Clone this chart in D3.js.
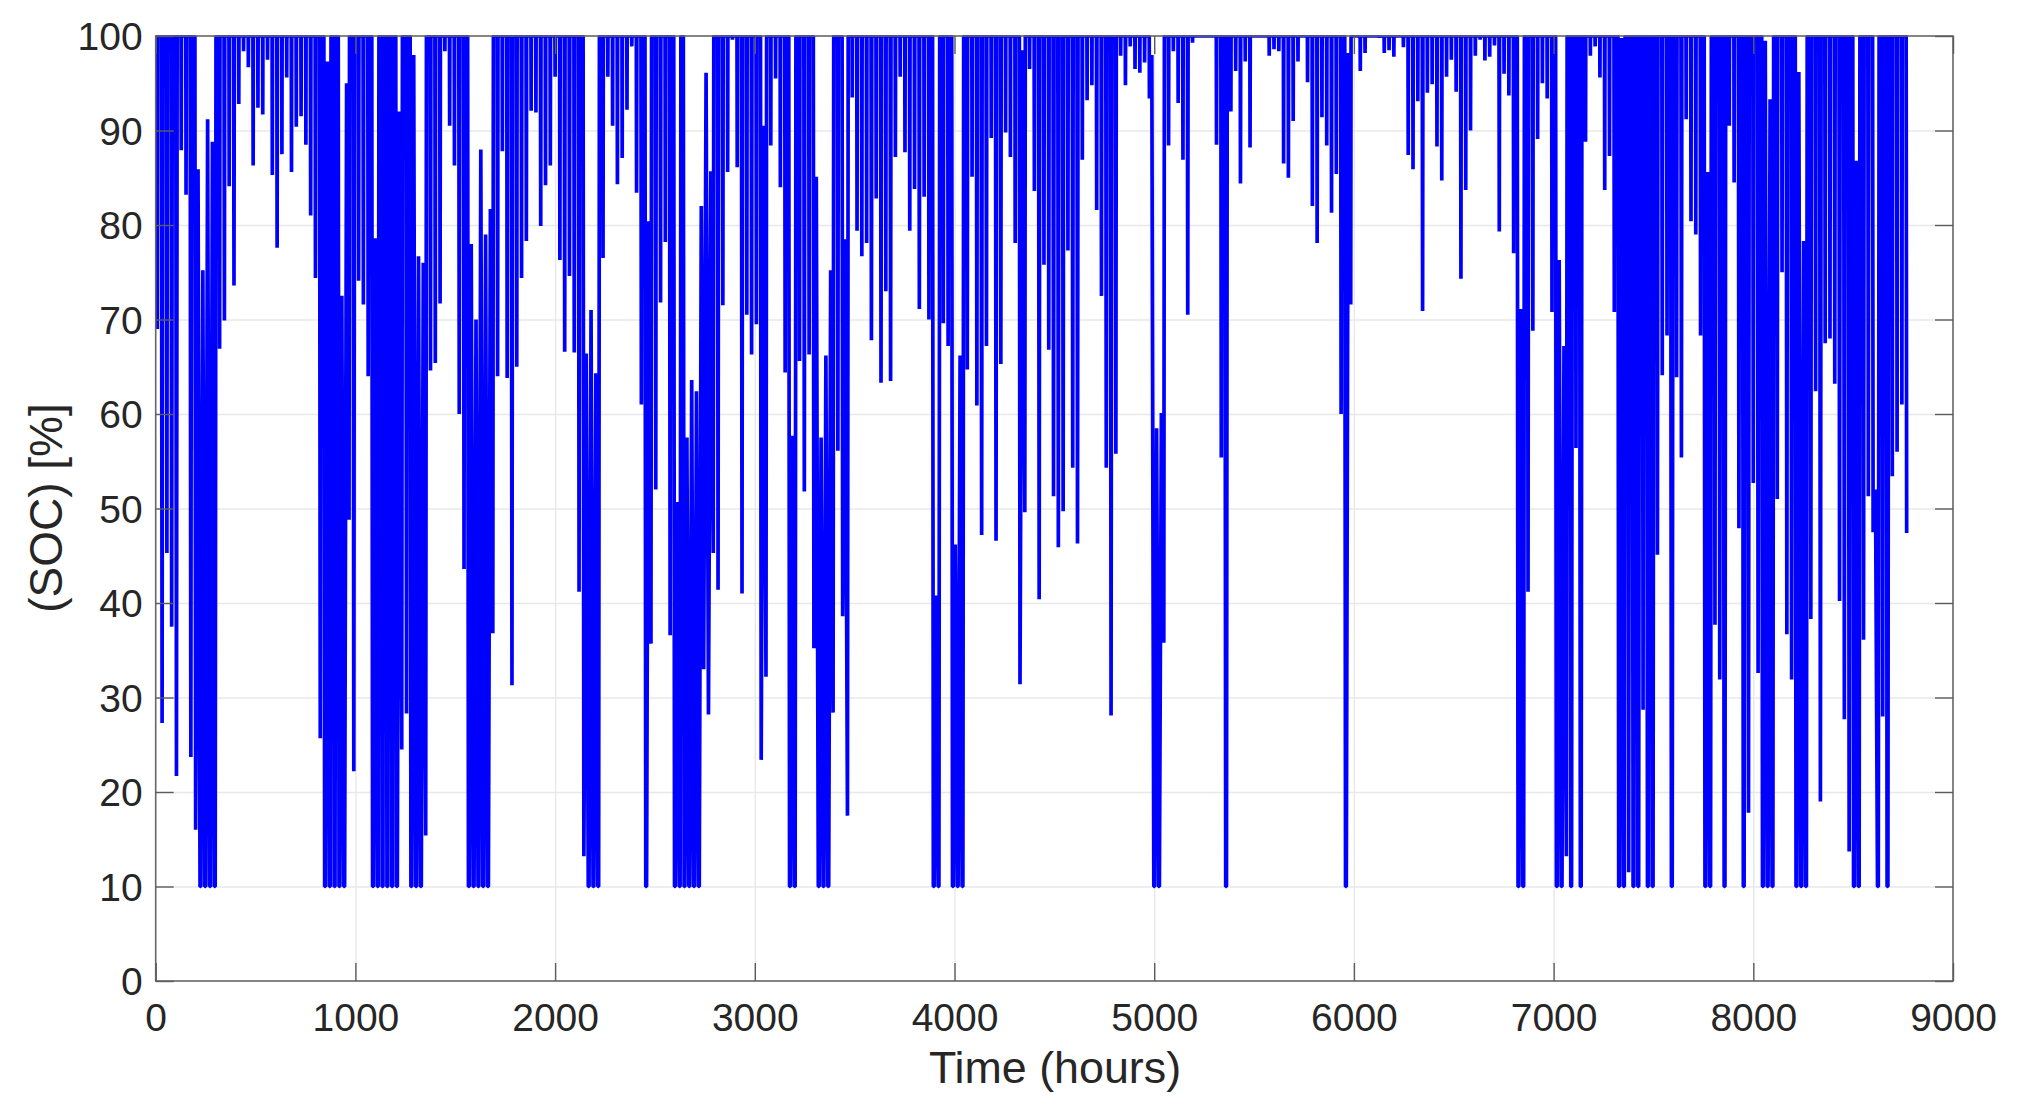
<!DOCTYPE html>
<html>
<head>
<meta charset="utf-8">
<script src="https://cdnjs.cloudflare.com/ajax/libs/d3/7.8.5/d3.min.js"></script>
<style>
html,body{margin:0;padding:0;background:#fff;overflow:hidden}
svg{display:block}
text{font-family:"Liberation Sans",Arial,sans-serif;fill:#262626}
.grid line{stroke:#e8e8e8;stroke-width:1.4}
.grid path{display:none}
.ax path{display:none}
.ax line{stroke:#5c5c5c;stroke-width:1.4}
.box{fill:none;stroke:#666;stroke-width:1.6}
</style>
</head>
<body>
<svg id="c" width="2023" height="1117"></svg>
<script>
// Lowest state of charge reached on each successive day of the year [%]
const dailyMinimum = [
69,27.3,45.3,37.5,21.7,87.9,83.2,23.7,16,10,
10,10,10,66.9,69.9,84.1,73.6,92.8,98.4,96.7,
86.3,92.4,91.7,97.5,85.3,77.6,87.5,95.6,85.6,90.4,
91.5,88.5,81,74.4,25.7,10,10,10,10,10,
48.8,22.2,74.1,71.6,64,10,10,10,10,10,
10,24.5,28.3,10,10,10,15.4,64.6,65.4,71.7,
98.4,90.5,86.3,60,43.6,10,10,10,10,10,
36.8,64,87.8,63.8,31.3,65,74.4,78.3,92.1,91.9,
79.9,84.2,86.3,95.7,76.3,66.6,74.6,66.5,41.2,13.2,
10,10,10,76.5,95.7,90.5,84.3,87.1,92.2,98.9,
83.4,61,10,35.7,52,71.8,78.2,36.6,10,10,
10,10,10,10,33,28.2,45.3,41.4,71.5,85.6,
99.6,86.1,41,70.5,66.3,69.5,23.4,32.2,88.4,95.5,
84,64.4,10,10,65.6,51.8,66.3,35.2,10,10,
10,28.4,56.1,38.6,17.5,93.5,79.4,76.7,78.1,67.8,
82.8,63.3,73,63.5,87.2,95.7,87.7,79.4,83.8,71.1,
83,70,10,10,69.6,67.2,10,10,10,64.7,
85.1,60.9,47.2,67.2,89.2,46.6,65.3,89.8,87.2,78.1,
31.4,49.6,96.5,83.6,40.4,75.8,66.8,51.3,45.9,49.7,
77.3,54.3,46.3,86.9,93.2,94.8,81.6,72.5,54.3,28.1,
55.8,97.9,94.8,98.9,96.5,96.1,97.2,93.4,10,10,
35.8,88.4,98.4,92.9,86.9,70.5,99.3,100,100,100,
100,88.5,55.4,10,92,96.3,84.4,97.3,88.2,100,
100,100,97.9,98.6,98.4,86.5,85,91,97.3,100,
95.1,82,78.1,91.4,88.4,81.3,85.4,60,10,71.6,
100,96.3,98.2,100,100,99.8,98.2,98.5,97.8,100,
98.8,87.4,85.9,93.1,70.9,94,94.9,88.3,84.7,95.7,
97.5,94.1,74.3,83.7,90,97.9,99.6,97.4,97.8,99,
79.3,96,93.7,77,10,10,41.2,68.8,89.1,95,
93.4,70.8,10,10,13.2,10,56.4,10,88.8,97.9,
98.9,95.6,83.7,87.3,70.8,10,10,11.5,10,10,
28.7,10,10,45.1,64.1,68.3,10,63.9,55.4,91.2,
80.4,79,68.3,10,10,37.7,31.9,10,90.5,84.5,
47.9,10,17.8,52.7,32.6,10,10,10,51,75,
36.7,31.9,10,10,10,38.3,62.4,19,67.5,68,
63.2,40.2,27.7,13.7,10,10,36.1,51.3,47.5,10,
28,10,53.4,56,61,47.4
];
// Days on which the battery did not recharge to 100 %, and the level it reached
const partialChargeDays = [8,9,10,11,35,38,39,45,50,53,54,55,65,66,67,68,69,89,90,91,102,108,110,111,112,113,114,115,126,132,137,138,139,140,143,162,166,167,180,207,208,209,248,284,292,293,305,323,335,336,342,343,354,358];
const partialChargeLevels = [85.9,75.2,91.2,88.8,97.3,72.5,95,78.6,92,98,76.7,76,78,70,88,79,81.7,66.4,71,64.3,80.4,50.7,57.5,63.6,62.4,82,96.1,85.7,90.5,57.7,85.1,57.5,66.2,75.2,78.5,40.8,46.2,66.2,98.5,98,58.5,60.1,98.2,71.1,76.3,67.2,99.8,85.6,99.5,93.3,96.2,78.3,86.8,52];
const xTicks = [0,1000,2000,3000,4000,5000,6000,7000,8000,9000];
const yTicks = [0,10,20,30,40,50,60,70,80,90,100];
const xLabel = "Time (hours)";
const yLabel = "(SOC) [%]";
const hoursPerDay = 24, minimumHour = 8, peakOffset = 12, fullCharge = 100, floorLevel = 10;
const floorHalfHours = 2, baseHalfHours = 0.7, halfHoursPerPercent = 0.035;

const L = 155.7, R = 1953, T = 36, B = 981;
const x = d3.scaleLinear().domain([0,9000]).range([L,R]);
const y = d3.scaleLinear().domain([0,100]).range([B,T]);
const svg = d3.select("#c");

const peakByDay = new Map(partialChargeDays.map((d,i)=>[d,partialChargeLevels[i]]));
const series = [[0,fullCharge]];
dailyMinimum.forEach((v,d)=>{
  const t = d*hoursPerDay+minimumHour;
  const half = baseHalfHours + (fullCharge-v)*halfHoursPerPercent;
  const flat = v<=floorLevel ? floorHalfHours : 0;
  if(!peakByDay.has(d-1)) series.push([t-half-flat, fullCharge]);
  if(flat){ series.push([t-flat,v]); series.push([t+flat,v]); }
  else series.push([t,v]);
  if(d===dailyMinimum.length-1) return;
  if(peakByDay.has(d)) series.push([t+peakOffset, peakByDay.get(d)]);
  else series.push([t+half+flat, fullCharge]);
});

svg.append("defs").append("clipPath").attr("id","plot").append("rect")
  .attr("x",L).attr("y",T-1).attr("width",R-L).attr("height",B-T+1);

// grid
svg.append("g").attr("class","grid").attr("transform",`translate(0,${B})`)
  .call(d3.axisBottom(x).tickValues(xTicks.slice(1,-1)).tickSize(-(B-T)).tickFormat(""));
svg.append("g").attr("class","grid").attr("transform",`translate(${L},0)`)
  .call(d3.axisLeft(y).tickValues(yTicks.slice(1,-1)).tickSize(-(R-L)).tickFormat(""));

// series
svg.append("path").datum(series).attr("clip-path","url(#plot)")
  .attr("d",d3.line().x(d=>x(d[0])).y(d=>y(d[1])))
  .attr("fill","none").attr("stroke","#0000ff").attr("stroke-width",3.7)
  .attr("stroke-linejoin","bevel").attr("stroke-linecap","butt");

// box
svg.append("rect").attr("class","box").attr("x",L).attr("y",T).attr("width",R-L).attr("height",B-T);

// ticks inward on all four sides
const tlen = 18;
const bottom = svg.append("g").attr("class","ax").attr("transform",`translate(0,${B})`)
  .call(d3.axisBottom(x).tickValues(xTicks).tickSizeInner(-tlen).tickSizeOuter(0).tickFormat(d3.format("d")));
bottom.selectAll("text").attr("font-size",39).attr("dy","0.71em").attr("y",22);
svg.append("g").attr("class","ax").attr("transform",`translate(0,${T})`)
  .call(d3.axisTop(x).tickValues(xTicks).tickSizeInner(-tlen).tickSizeOuter(0).tickFormat(""));
const left = svg.append("g").attr("class","ax").attr("transform",`translate(${L},0)`)
  .call(d3.axisLeft(y).tickValues(yTicks).tickSizeInner(-tlen).tickSizeOuter(0).tickFormat(d3.format("d")));
left.selectAll("text").attr("font-size",39).attr("x",-13).attr("dy","0.35em");
svg.append("g").attr("class","ax").attr("transform",`translate(${R},0)`)
  .call(d3.axisRight(y).tickValues(yTicks).tickSizeInner(-tlen).tickSizeOuter(0).tickFormat(""));

// axis titles
svg.append("text").attr("x",1055).attr("y",1083).attr("text-anchor","middle").attr("font-size",44.8).text(xLabel);
svg.append("text").attr("transform","translate(62,508) rotate(-90)").attr("text-anchor","middle").attr("font-size",46).text(yLabel);
</script>
</body>
</html>
